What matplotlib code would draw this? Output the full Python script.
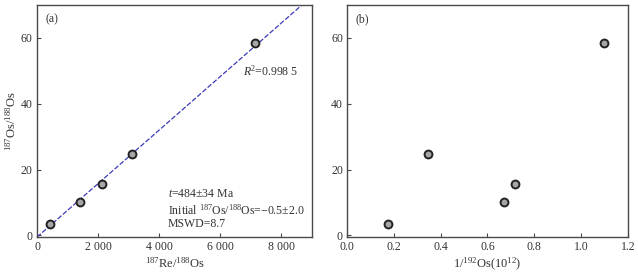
import numpy as np
import matplotlib
matplotlib.use('Agg')
import matplotlib.pyplot as plt

# data
re_os = [424, 1404, 2122, 3122, 7151]          # 187Re/188Os
os_ratio = [3.4, 10.1, 15.6, 24.7, 58.3]       # 187Os/188Os
inv_os192 = [0.173, 0.671, 0.717, 0.345, 1.10] # 1/192Os (10^12)
os_ratio_b = [3.4, 10.1, 15.6, 24.7, 58.3]

fit_slope = 0.00813
fit_intercept = -0.5

plt.rcParams['font.family'] = ['Liberation Serif', 'DejaVu Serif']
plt.rcParams['font.size'] = 8
plt.rcParams['mathtext.fontset'] = 'custom'
plt.rcParams['mathtext.rm'] = 'Liberation Serif'
plt.rcParams['mathtext.it'] = 'Liberation Serif:italic'

spine_c = '#4a4a4a'
text_c = '#333333'
mk = dict(marker='o', s=32, facecolor='#a6a6a6', edgecolor='#222222', linewidths=1.4, zorder=3)

fig = plt.figure(figsize=(6.38, 2.76), dpi=100)
ax1 = fig.add_axes([0.058, 0.141, 0.431, 0.841])
ax2 = fig.add_axes([0.544, 0.141, 0.440, 0.841])

for ax in (ax1, ax2):
    for s in ax.spines.values():
        s.set_color(spine_c)
        s.set_linewidth(1.0)
    ax.tick_params(direction='in', length=3, width=0.8, color=spine_c,
                   labelcolor=text_c, labelsize=8.5, pad=3)
    ax.set_ylim(-0.5, 70)
    ax.set_yticks([0, 20, 40, 60])

# (a) isochron
xx = np.array([0, 9000])
ax1.plot(xx, fit_slope * xx + fit_intercept, color='#3a3ab8', lw=0.9, ls=(0, (4, 1.5)), zorder=2)
ax1.scatter(re_os, os_ratio, **mk)
ax1.set_xlim(0, 9000)
ax1.set_xticks([0, 2000, 4000, 6000, 8000])
ax1.set_xticklabels(['0', '2 000', '4 000', '6 000', '8 000'])
ax1.set_xlabel(r'$^{187}$Re/$^{188}$Os', fontsize=9, color=text_c, labelpad=2)
ax1.set_ylabel(r'$^{187}$Os/$^{188}$Os', fontsize=9, color=text_c, labelpad=2)
ax1.text(0.03, 0.965, '(a)', transform=ax1.transAxes, ha='left', va='top', fontsize=8.5, color=text_c)
ax1.text(0.749, 0.715, r'$R$$^{2}$=0.998 5', transform=ax1.transAxes, ha='left', va='center',
         fontsize=8.5, color=text_c)
ax1.text(0.475, 0.184, r'$t$=484±34 Ma', transform=ax1.transAxes, ha='left', va='center',
         fontsize=8.5, color=text_c)
ax1.text(0.475, 0.117, r'Initial $^{187}$Os/$^{188}$Os=−0.5±2.0', transform=ax1.transAxes,
         ha='left', va='center', fontsize=8.5, color=text_c)
ax1.text(0.475, 0.058, 'MSWD=8.7', transform=ax1.transAxes, ha='left', va='center',
         fontsize=8.5, color=text_c)

# (b)
ax2.scatter(inv_os192, os_ratio_b, **mk)
ax2.set_xlim(0, 1.2)
ax2.set_xticks([0.0, 0.2, 0.4, 0.6, 0.8, 1.0, 1.2])
ax2.set_xticklabels(['0.0', '0.2', '0.4', '0.6', '0.8', '1.0', '1.2'])
ax2.set_xlabel(r'1/$^{192}$Os(10$^{12}$)', fontsize=9, color=text_c, labelpad=2)
ax2.text(0.03, 0.965, '(b)', transform=ax2.transAxes, ha='left', va='top', fontsize=8.5, color=text_c)

fig.savefig('out.png', dpi=100)
